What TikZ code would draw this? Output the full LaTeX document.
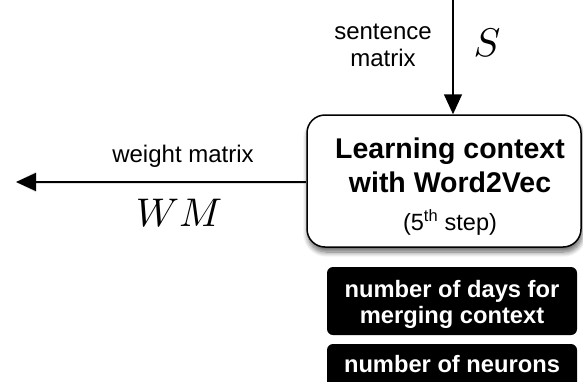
\documentclass[tikz,border=0pt]{standalone}
\usepackage{graphicx}
\usepackage{fontspec}
\setmainfont{Liberation Sans}
\usetikzlibrary{arrows.meta,shadows.blur}
% large math symbols drawn from the 10pt math font
\newcommand{\bigmath}[1]{\scalebox{4}{$#1$}}
\begin{document}
\begin{tikzpicture}[x=1pt,y=-1pt,
  lbl/.style={font=\fontsize{24}{27}\selectfont, align=center, inner sep=0pt},
  mathlbl/.style={inner sep=0pt},
  stepbox/.style={draw, line width=1.5pt, rounded corners=18pt, fill=white,
    blur shadow={shadow xshift=1pt, shadow yshift=-5pt, shadow blur steps=8, shadow blur radius=5pt, shadow opacity=60}},
  parambox/.style={fill=black, rounded corners=6pt, minimum width=250pt},
  paramtext/.style={text=white, font=\bfseries\fontsize{23.7}{26}\selectfont, align=center, inner sep=0pt},
  flow/.style={line width=1.5pt, -{Triangle[length=20pt,width=18pt]}},
  flowshadow/.style={line width=3pt, black, opacity=0.12, yshift=-3pt,
    -{Triangle[length=20pt,width=20pt]}}]
\useasboundingbox (0,0) rectangle (583,381);
% main processing step
\node[stepbox, minimum width=274pt, minimum height=132pt] (step) at (444,181) {};
\node[font=\bfseries\fontsize{28.5}{34}\selectfont, align=center, inner sep=0pt] (title) at (450,165)
  {Learning context\\with Word2Vec};
\node[font=\fontsize{23.5}{26}\selectfont, inner sep=0pt] (sub) at (450,222) {(5\textsuperscript{th} step)};
% input: sentence matrix
\coordinate (in) at (453,0);
\draw[flow] (in) -- (step.north -| in);
\node[lbl] (sm) at (383,45) {sentence\\matrix};
\node[mathlbl] (S) at (487,43) {\bigmath{S}};
% output: weight matrix, with a soft shadow under the arrow
\coordinate (out) at (16,182);
\draw[flowshadow] (step.west |- out) -- (out);
\draw[flow] (step.west |- out) -- (out);
\node[lbl] (wmlabel) at (183,156.5) {weight matrix};
\node[mathlbl] (WM) at (179,213) {\bigmath{WM}};
% parameters
\node[parambox, minimum height=68pt] (days) at (452,301) {};
\node[paramtext] (daystext) at (452,304) {number of days for\\merging context};
\node[parambox, minimum height=50pt] (neurons) at (452,369) {};
\node[paramtext] (neurtext) at (452,364.5) {number of neurons};
\end{tikzpicture}
\end{document}
